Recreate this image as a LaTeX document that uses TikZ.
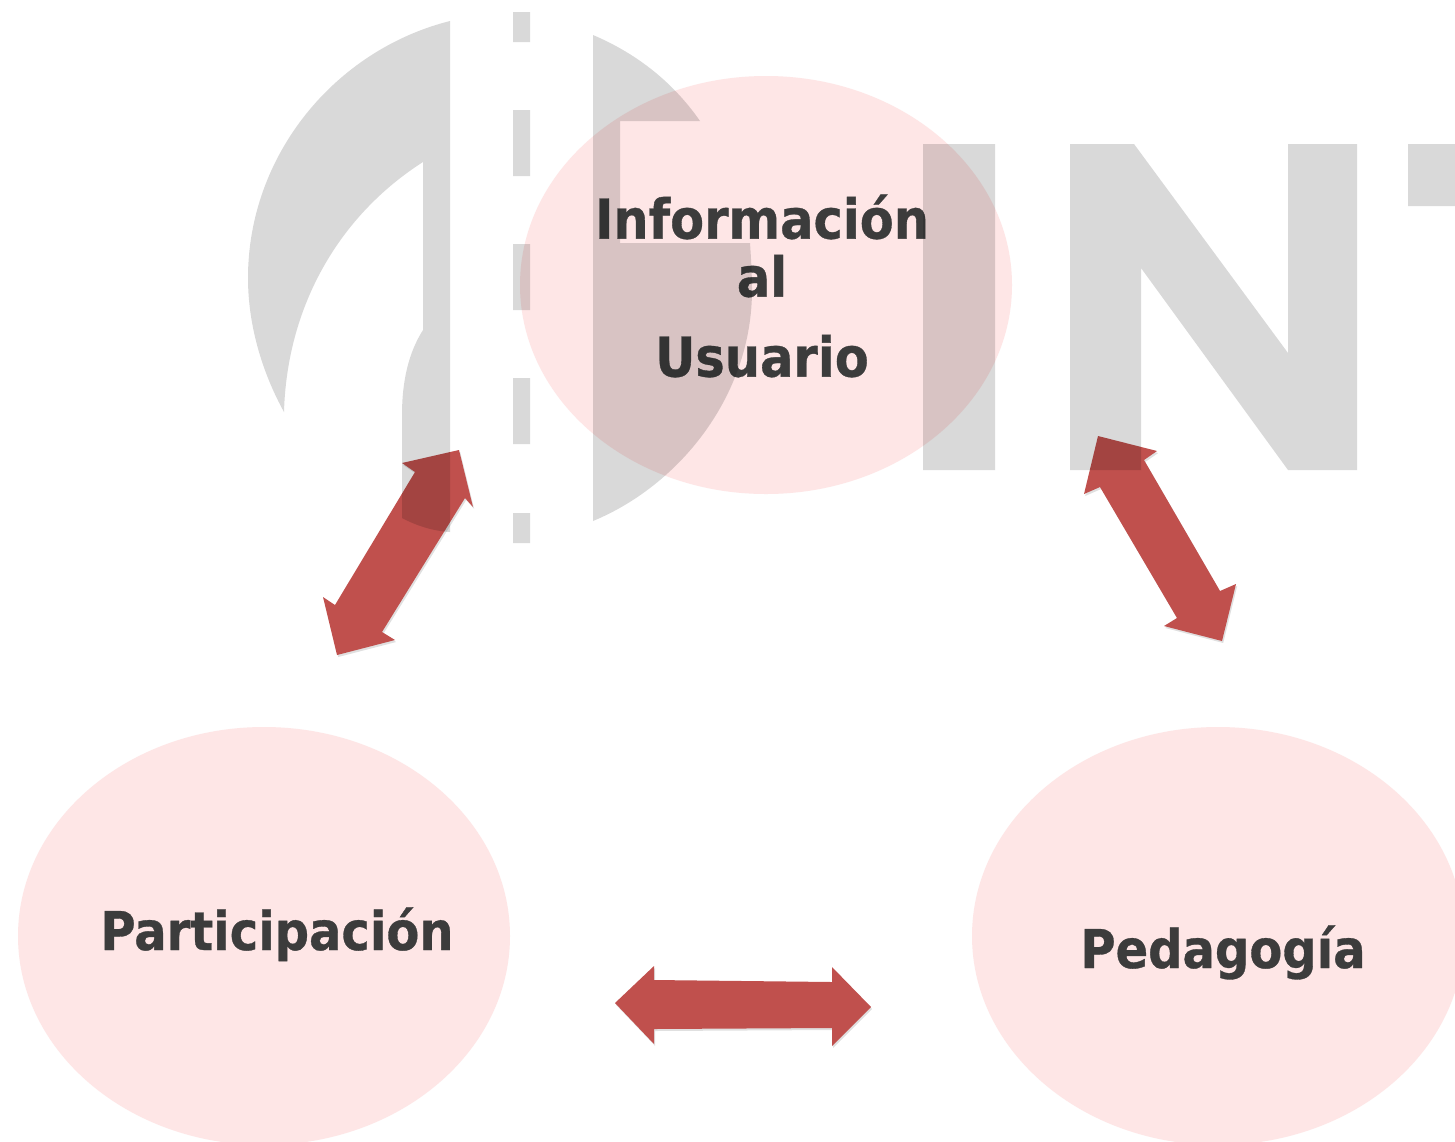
\documentclass[tikz,border=0pt]{standalone}
\usepackage{fontspec}
\setmainfont{DejaVu Sans Condensed}[BoldFont={DejaVu Sans Condensed Bold},BoldFeatures={FakeBold=0.6}]
\usetikzlibrary{shapes.geometric}
\definecolor{blobfill}{HTML}{FEE6E6}
\definecolor{arrowred}{HTML}{C0504D}
\definecolor{labelink}{HTML}{3C3C3C}
\tikzset{
  blob/.style={ellipse,draw=none,fill=blobfill,inner sep=0pt,minimum width=246pt,minimum height=209pt},
  blockarrow/.style={fill=arrowred,draw=none,
    preaction={fill=black,fill opacity=0.12,transform canvas={xshift=0.6pt,yshift=-1pt}}},
  labeltext/.style={text=labelink,font=\fontsize{27.5}{29}\selectfont\bfseries,inner sep=0pt,align=center},
  smalllabel/.style={labeltext,font=\fontsize{26.7}{29}\selectfont\bfseries,anchor=base},
  watermark/.style={fill=black,fill opacity=0.15,draw=none}
}
\begin{document}
\begin{tikzpicture}[x=0.5pt,y=-0.5pt]
\useasboundingbox (0,0) rectangle (1455,1141);
\clip (0,0) rectangle (1455,1141);
\fill[white] (0,0) rectangle (1455,1141);
% circles
\node[blob] (info) at (766,285) {};
\node[blob] (part) at (264,936) {};
\node[blob] (peda) at (1218,936) {};
% labels
\node[labeltext] (infotxt) at (762,286) {Información\\al\\[11pt]Usuario};
\node[smalllabel] (parttxt) at (277,950) {Participación};
\node[smalllabel] (pedatxt) at (1223,968) {Pedagogía};
% block arrows
\path[blockarrow] (459,450) -- (402,463) -- (415,472) -- (335,605) -- (323,597) -- (337,655) -- (395,640) -- (382,632) -- (465,498) -- (473,507) -- cycle;
\path[blockarrow] (1098,436) -- (1157,451) -- (1144,460) -- (1220,591) -- (1236,584) -- (1222,641) -- (1164,626) -- (1177,618) -- (1100,487) -- (1084,494) -- cycle;
\path[blockarrow] (615,1003) -- (654,966) -- (654,980) -- (832,982) -- (832,967) -- (871,1007) -- (832,1046) -- (832,1028) -- (654,1029) -- (654,1044) -- cycle;
% watermark
\path[watermark]
  (450,21) .. controls (335,50) and (248,155) .. (248,278)
  .. controls (248,325) and (262,372) .. (284,412)
  .. controls (287,305) and (340,215) .. (423,162)
  -- (423,330) .. controls (409,352) and (402,380) .. (402,415)
  -- (402,518) .. controls (415,525) and (432,531) .. (450,532) -- cycle
  (593,35) .. controls (640,55) and (675,85) .. (700,121)
  -- (620,121) -- (620,243) -- (750,243)
  .. controls (751,258) and (752,274) .. (752,290)
  .. controls (752,395) and (680,485) .. (593,521) -- cycle
  (513,12) rectangle (530,42)
  (513,110) rectangle (530,176)
  (513,244) rectangle (530,310)
  (513,378) rectangle (530,444)
  (513,513) rectangle (530,543)
  (923,144) rectangle (995,470)
  (1070,144) -- (1134,144) -- (1288,353) -- (1288,144) -- (1357,144) -- (1357,470) -- (1288,470) -- (1141,268) -- (1141,470) -- (1070,470) -- cycle
  (1408,144) rectangle (1455,206);
\end{tikzpicture}
\end{document}
